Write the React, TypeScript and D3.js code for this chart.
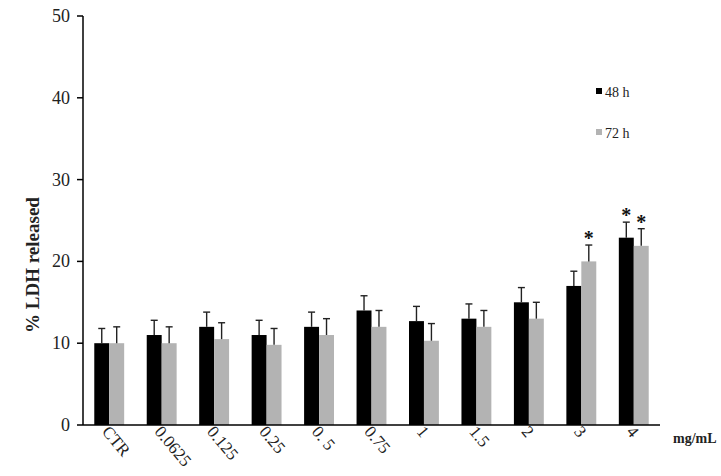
import React from "react";
import * as d3 from "d3";

const categories = ["CTR", "0.0625", "0.125", "0.25", "0. 5", "0.75", "1", "1.5", "2", "3", "4"];
const series48 = [10, 11, 12, 11, 12, 14, 12.7, 13, 15, 17, 22.9];
const err48 = [1.8, 1.8, 1.8, 1.8, 1.8, 1.8, 1.8, 1.8, 1.8, 1.8, 1.9];
const series72 = [10, 10, 10.5, 9.8, 11, 12, 10.3, 12, 13, 20, 21.9];
const err72 = [2, 2, 2, 2, 2, 2, 2.1, 2, 2, 2, 2.1];
const sig48 = [false, false, false, false, false, false, false, false, false, false, true];
const sig72 = [false, false, false, false, false, false, false, false, false, true, true];
const yTicks = [0, 10, 20, 30, 40, 50];
const seriesNames = ["48 h", "72 h"];
const colors = ["#000000", "#b3b3b3"];

export default function App() {
  const W = 721, H = 476;
  const left = 83, right = 660, top = 16, bottom = 425;
  const x = d3.scaleBand<string>().domain(categories).range([left, right]).paddingInner(0.43).paddingOuter(0.215);
  const y = d3.scaleLinear().domain([0, 50]).range([bottom, top]);
  const bw = x.bandwidth() / 2;
  const font = "'Liberation Serif', 'Times New Roman', serif";
  const series = [
    { vals: series48, errs: err48, sig: sig48 },
    { vals: series72, errs: err72, sig: sig72 },
  ];
  return (
    <svg width={W} height={H} style={{ position: "absolute", left: 0, top: 0, background: "#fff" }} fontFamily={font}>
      {categories.map((c, i) => (
        <g key={c}>
          {series.map((s, k) => {
            const x0 = (x(c) as number) + k * bw;
            const v = s.vals[i];
            const e = v + s.errs[i];
            const cx = x0 + bw / 2;
            return (
              <g key={k}>
                <rect x={x0} y={y(v)} width={bw} height={y(0) - y(v)} fill={colors[k]} />
                <line x1={cx} x2={cx} y1={y(v)} y2={y(e)} stroke="#222" strokeWidth={1.4} />
                <line x1={cx - 3.5} x2={cx + 3.5} y1={y(e)} y2={y(e)} stroke="#222" strokeWidth={1.4} />
                {s.sig[i] && (
                  <text x={cx} y={y(e)} textAnchor="middle" fontSize={20} fontWeight="bold" fill="#111">*</text>
                )}
              </g>
            );
          })}
        </g>
      ))}
      {/* y axis */}
      <line x1={left} x2={left} y1={top} y2={bottom} stroke="#000" strokeWidth={1.5} />
      {yTicks.map((t) => (
        <g key={t}>
          <line x1={left - 6} x2={left} y1={y(t)} y2={y(t)} stroke="#000" strokeWidth={1.5} />
          <text x={70} y={y(t) + 6} textAnchor="end" fontSize={18} fill="#222">{t}</text>
        </g>
      ))}
      {/* x axis */}
      <line x1={left} x2={right} y1={bottom} y2={bottom} stroke="#000" strokeWidth={1.5} />
      {categories.map((c) => {
        const cx = (x(c) as number) + x.bandwidth() / 2;
        return (
          <text key={c} transform={`translate(${cx - 8},${bottom + 7}) rotate(50)`} fontSize={17} fill="#222">{c}</text>
        );
      })}
      <text x={673} y={443} fontSize={14} fontWeight="bold" fill="#222">mg/mL</text>
      <text transform={`translate(39,265) rotate(-90)`} textAnchor="middle" fontSize={19} fontWeight="bold" fill="#222">% LDH released</text>
      {/* legend */}
      {seriesNames.map((n, k) => (
        <g key={n}>
          <rect x={596} y={88 + k * 41} width={6} height={6} fill={colors[k]} />
          <text x={605} y={97 + k * 41} fontSize={14} fill="#222">{n}</text>
        </g>
      ))}
    </svg>
  );
}
